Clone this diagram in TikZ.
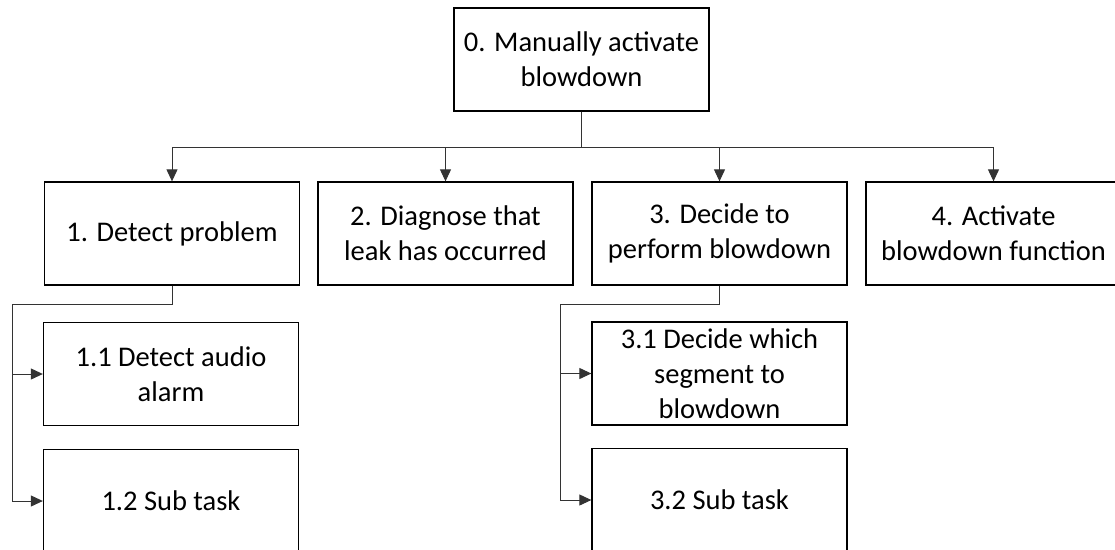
\documentclass[tikz,border=0pt]{standalone}
\usepackage{fontspec}
\setmainfont{Carlito}
\usetikzlibrary{arrows.meta}

\begin{document}
\begin{tikzpicture}[x=1pt, y=-1pt]
\tikzstyle{taskbox}=[rectangle, draw=black, line width=1.3pt, minimum width=255pt, minimum height=103pt, inner sep=2pt, align=center, font=\fontsize{28.5}{35}\selectfont]
\tikzstyle{link}=[draw=black!80, line width=1pt, -{Triangle[length=12pt, width=11pt]}]

\useasboundingbox (0,0) rectangle (1115,549);

\node[taskbox] (T0) at (581.5,59.5) {0. Manually activate\\blowdown};
\node[taskbox] (T1) at (172,233.5) {1. Detect problem};
\node[taskbox] (T2) at (445.5,233.5) {2. Diagnose that\\leak has occurred};
\node[taskbox] (T3) at (719.5,233.5) {3. Decide to\\perform blowdown};
\node[taskbox] (T4) at (993.5,233.5) {4. Activate\\blowdown function};
\draw[link] (T0.south) -- ++(0,36) -| (T1.north);
\draw[link] (T0.south) -- ++(0,36) -| (T2.north);
\draw[link] (T0.south) -- ++(0,36) -| (T3.north);
\draw[link] (T0.south) -- ++(0,36) -| (T4.north);

\node[taskbox] (T1x1) at (171,374) {1.1 Detect audio\\alarm};
\node[taskbox] (T1x2) at (171,501) {1.2 Sub task};
\draw[link] (T1.south) -- ++(0,19) -| ([xshift=-30pt]T1x1.west) -- (T1x1.west);
\draw[link] (T1.south) -- ++(0,19) -| ([xshift=-30pt]T1x2.west) -- (T1x2.west);

\node[taskbox] (T3x1) at (719.5,373.5) {3.1 Decide which\\segment to\\blowdown};
\node[taskbox] (T3x2) at (719.5,500) {3.2 Sub task};
\draw[link] (T3.south) -- ++(0,19) -| ([xshift=-31pt]T3x1.west) -- (T3x1.west);
\draw[link] (T3.south) -- ++(0,19) -| ([xshift=-31pt]T3x2.west) -- (T3x2.west);
\end{tikzpicture}
\end{document}
